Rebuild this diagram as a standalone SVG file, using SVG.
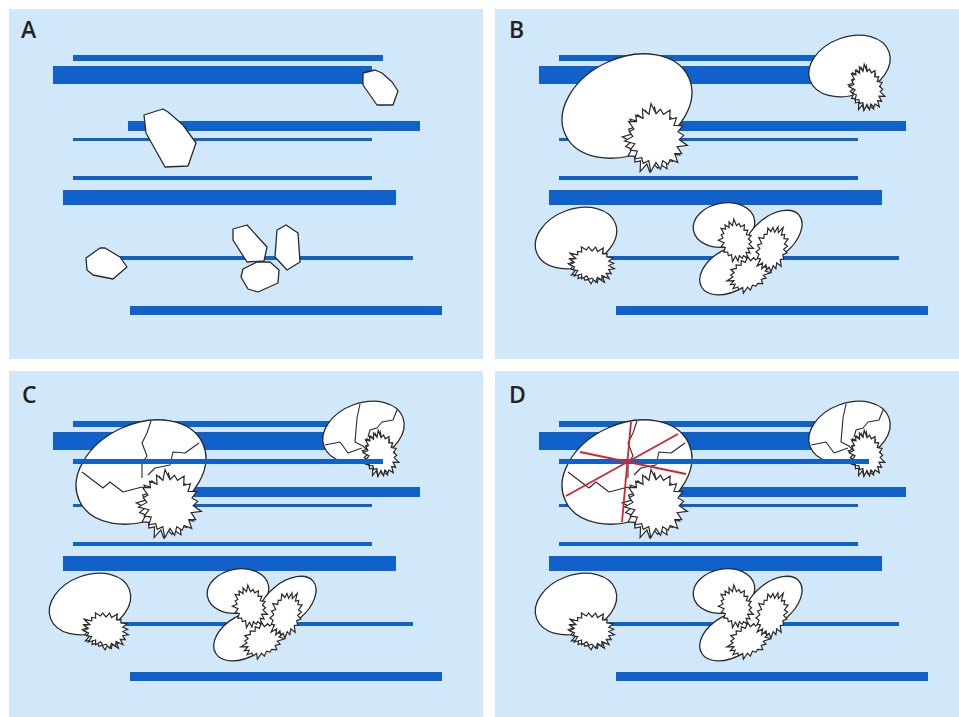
<svg xmlns="http://www.w3.org/2000/svg" xmlns:xlink="http://www.w3.org/1999/xlink" width="959" height="717" viewBox="0 0 959 717">
<style>
.panel{fill:#d1e8fa}
.ln{fill:#1061c9}
.cell{fill:#fff;stroke:#2a2a2a;stroke-width:1.3;stroke-linejoin:round}
.star{fill:#fff;stroke:#2a2a2a;stroke-width:1.2;stroke-linejoin:miter;vector-effect:non-scaling-stroke}
.crack{fill:none;stroke:#2a2a2a;stroke-width:1.1;stroke-linejoin:round}
.cut{fill:none;stroke:#d3242b;stroke-width:1.8}
.lbl{font-family:"Open Sans","Liberation Sans",sans-serif;font-size:23px;font-weight:600;fill:#222}
</style>
<defs>
  <!-- spiky outline, radius ~30 around the origin -->
  <path id="spiky" class="star" d="M31,0 L23.7,3.7 L27.6,9 L21.4,10.9 L26.7,19.4 L16.3,16.3 L17.6,24.3 L10.9,21.4 L9.9,30.4 L3.9,24.7 L0,28 L-3.6,22.7 L-9.6,29.5 L-10.9,21.4 L-20,27.5 L-17,17 L-23.5,17 L-22.3,11.4 L-29.5,9.6 L-23.7,3.8 L-30,0 L-22.7,-3.6 L-31.4,-10.2 L-21.4,-10.9 L-22.7,-16.5 L-17,-17 L-18.8,-25.9 L-11.3,-22.3 L-9.3,-28.5 L-3.6,-22.7 L0,-31 L3.8,-23.7 L10.5,-32.3 L10.9,-21.4 L17,-23.5 L17.7,-17.7 L25.9,-18.8 L21.4,-10.9 L28.5,-9.3 L22.7,-3.6 Z"/>

  <!-- horizontal bars, panel-local coordinates -->
  <g id="lines" class="ln">
    <rect x="73" y="55" width="310" height="6"/>
    <rect x="53" y="66" width="319" height="18"/>
    <rect x="128" y="121" width="292" height="10"/>
    <rect x="73" y="138" width="299" height="3"/>
    <rect x="73" y="176" width="299" height="4"/>
    <rect x="63" y="190" width="333" height="15"/>
    <rect x="110" y="256" width="303" height="4"/>
    <rect x="130" y="306" width="312" height="9"/>
  </g>

  <!-- swollen cell bodies -->
  <g id="bodies" class="cell">
    <ellipse cx="141" cy="106" rx="68" ry="48" transform="rotate(-25 141 106)"/>
    <ellipse cx="363.5" cy="66" rx="42" ry="29" transform="rotate(-20 363.5 66)"/>
    <ellipse cx="90" cy="238" rx="42" ry="29" transform="rotate(-20 90 238)"/>
    <ellipse cx="245" cy="270" rx="34" ry="21" transform="rotate(-30 245 270)"/>
    <ellipse cx="238" cy="225" rx="31" ry="22" transform="rotate(-10 238 225)"/>
    <ellipse cx="287" cy="237" rx="34" ry="20" transform="rotate(-40 287 237)"/>
  </g>

  <!-- spiky bodies attached to the cells -->
  <g id="stars">
    <use xlink:href="#spiky" transform="translate(166,141) rotate(-12) scale(0.9,1.0)"/>
    <use xlink:href="#spiky" transform="translate(170,138) rotate(-25) scale(0.95,1.03)"/>
    <use xlink:href="#spiky" transform="translate(379,89) rotate(-10) scale(0.5,0.7)"/>
    <use xlink:href="#spiky" transform="translate(381,88) rotate(-20) scale(0.52,0.72)"/>
    <use xlink:href="#spiky" transform="translate(104,266) rotate(20) scale(0.72,0.54)"/>
    <use xlink:href="#spiky" transform="translate(106,264) rotate(12) scale(0.74,0.56)"/>
    <use xlink:href="#spiky" transform="translate(263,274) rotate(-30) scale(0.72,0.5)"/>
    <use xlink:href="#spiky" transform="translate(250,241) rotate(-20) scale(0.52,0.66)"/>
    <use xlink:href="#spiky" transform="translate(286,249) rotate(15) scale(0.5,0.74)"/>
  </g>

  <!-- fracture lines across the two upper cells -->
  <g id="cracks" class="crack">
    <polyline points="151,55 147,67 142,77 147,90 142,97 142,112"/>
    <polyline points="199,77 185,87 173,86 170,99 155,102 148,109"/>
    <polyline points="82,106 103,122 110,116 123,126 142,121"/>
    <polyline points="360,38 357,52 355,76 363,80 367,84"/>
    <polyline points="325,79 340,76 348,87 362,82"/>
    <polyline points="397,44 393,54 382,56 377,62 370,64 368,71"/>
  </g>

  <rect id="extra-line" class="ln" x="73" y="93" width="310" height="5"/>
</defs>

<rect width="959" height="717" fill="#fff"/>

<!-- Panel A: bars with small compact cells -->
<g id="panel-a">
  <rect class="panel" x="9" y="9" width="474" height="350"/>
  <use xlink:href="#lines"/>
  <g class="cell">
    <path id="a1" d="M363,73 L375,70 L382,73 L392,82 L398,91 L393,105 L377,105 L363,85 Z"/>
    <path id="a2" d="M144,115 L163,109 L168,112 L183,125 L196,143 L188,166 L165,167 L146,133 Z"/>
    <path id="a3" d="M86,258 L100,248 L105,248 L120,257 L127,267 L113,279 L93,275 L87,270 Z"/>
    <path id="a4" d="M233,229 L247,225 L267,247 L264,261 L247,262 L233,240 Z"/>
    <path id="a5" d="M277,230 L286,225 L298,233 L300,262 L287,270 L275,257 Z"/>
    <path id="a6" d="M243,269 L257,262 L270,262 L279,270 L278,283 L258,292 L248,289 L241,277 Z"/>
  </g>
  <text class="lbl" x="21" y="38">A</text>
</g>

<!-- Panel B: swollen cells with spiky outgrowths -->
<g id="panel-b">
  <rect class="panel" x="495" y="9" width="464" height="350"/>
  <g transform="translate(486,0)">
    <use xlink:href="#lines"/>
    <use xlink:href="#bodies"/>
    <use xlink:href="#stars"/>
  </g>
  <text class="lbl" x="509" y="38">B</text>
</g>

<!-- Panel C: upper cells cracked, new bar laid across -->
<g id="panel-c">
  <rect class="panel" x="9" y="371" width="474" height="346"/>
  <g transform="translate(0,366)">
    <use xlink:href="#lines"/>
    <use xlink:href="#bodies"/>
    <use xlink:href="#cracks"/>
    <use xlink:href="#stars"/>
    <use xlink:href="#extra-line"/>
  </g>
  <text class="lbl" x="22" y="403">C</text>
</g>

<!-- Panel D: as C, with red cut lines through the large cell -->
<g id="panel-d">
  <rect class="panel" x="495" y="371" width="464" height="346"/>
  <g transform="translate(486,366)">
    <use xlink:href="#lines"/>
    <use xlink:href="#bodies"/>
    <use xlink:href="#cracks"/>
    <use xlink:href="#stars"/>
    <use xlink:href="#extra-line"/>
    <g class="cut">
      <line x1="145" y1="56" x2="136" y2="156"/>
      <line x1="94" y1="86" x2="200" y2="108"/>
      <line x1="80" y1="130" x2="192" y2="68"/>
    </g>
  </g>
  <text class="lbl" x="509" y="403">D</text>
</g>
</svg>
